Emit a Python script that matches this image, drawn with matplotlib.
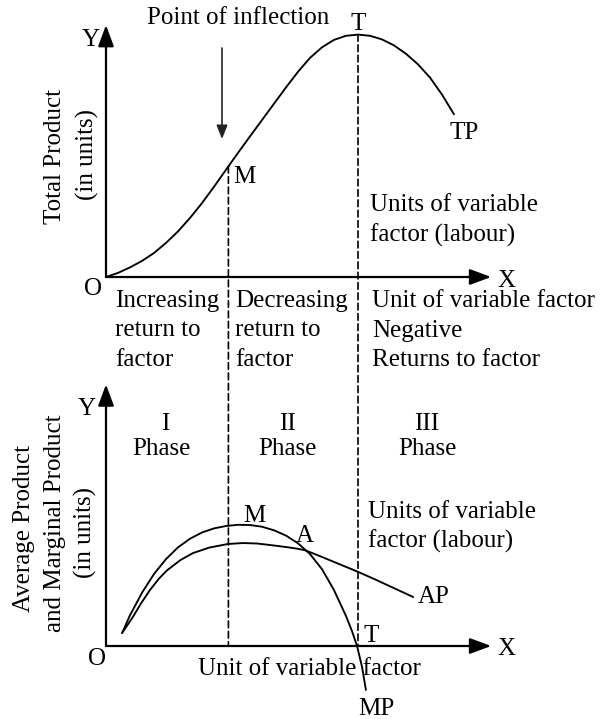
import numpy as np
import matplotlib
matplotlib.use("Agg")
import matplotlib.pyplot as plt
from matplotlib.patches import ConnectionPatch, FancyArrowPatch

# ---------------- data (labour units, product units) ----------------
tp_labour = [0.0, 0.5, 1.0, 1.5, 2.0, 2.5, 3.0, 3.5, 4.0, 4.5, 5.0, 5.5, 6.0,
             6.5, 7.0, 7.5, 8.0, 8.5, 9.0, 9.5, 10.0, 10.5, 11.0, 11.5, 12.0,
             12.5, 13.0, 13.5, 14.0, 14.5]
tp_values = [0.0, 0.17, 0.4, 0.67, 1.0, 1.42, 1.9, 2.46, 3.08, 3.76, 4.47, 5.17,
             5.86, 6.54, 7.22, 7.9, 8.55, 9.13, 9.57, 9.88, 10.05, 10.1, 10.05,
             9.9, 9.65, 9.3, 8.86, 8.31, 7.6, 6.78]

mp_labour = [0.67, 1.0, 1.5, 2.0, 2.5, 3.0, 3.5, 4.0, 4.5, 5.0, 5.5, 6.0, 6.5,
             7.0, 7.5, 8.0, 8.5, 9.0, 9.5, 10.0, 10.25, 10.46, 10.67, 10.83]
mp_values = [0.54, 1.28, 2.22, 3.0, 3.62, 4.11, 4.47, 4.73, 4.9, 5.0, 5.05, 5.04,
             4.97, 4.82, 4.6, 4.28, 3.83, 3.2, 2.33, 1.25, 0.62, 0.0, -0.88, -1.83]

ap_labour = [0.67, 0.9, 1.12, 1.45, 1.83, 2.2, 2.54, 3.1, 3.62, 4.3, 5.08, 5.7,
             6.3, 6.9, 7.6, 8.0, 8.29, 8.6, 9.0, 9.7, 10.5, 11.2, 12.0, 12.8]
ap_values = [0.54, 0.88, 1.21, 1.76, 2.33, 2.8, 3.15, 3.58, 3.87, 4.1, 4.25, 4.29,
             4.27, 4.2, 4.11, 4.05, 3.99, 3.87, 3.71, 3.42, 3.09, 2.78, 2.41, 2.04]

m_labour = 5.1    # point of inflection / end of phase I
t_labour = 10.5   # maximum TP / MP = 0

W, H = 613, 719
fig = plt.figure(figsize=(W / 100, H / 100), dpi=100)
fig.patch.set_facecolor("white")

FONT = "Liberation Serif"
FS = 18
PX = 24.0  # pixels per unit

def px_to_fig(x, y):
    return x / W, 1 - y / H

def label(x, y, s, ha="left", **kw):
    fx, fy = px_to_fig(x, y)
    fig.text(fx, fy, s, ha=ha, va="baseline", fontsize=kw.pop("fontsize", FS),
             family=FONT, color="black", **kw)

# top axes: origin at pixel (106, 277)
ax1 = fig.add_axes([106 / W, (H - 277) / H, 16 * PX / W, 10.5 * PX / H])
ax1.set_xlim(0, 16)
ax1.set_ylim(0, 10.5)
ax1.axis("off")

# bottom axes: origin at pixel (106, 646)
ax2 = fig.add_axes([106 / W, (H - 646) / H, 16 * PX / W, 10.9 * PX / H])
ax2.set_xlim(0, 16)
ax2.set_ylim(0, 10.9)
ax2.axis("off")

axis_arrow = dict(arrowstyle="-|>,head_length=0.65,head_width=0.24",
                  lw=1.6, color="black", shrinkA=0, shrinkB=0, mutation_scale=20)
for ax, ytop in ((ax1, 10.5), (ax2, 10.9)):
    ax.annotate("", xy=(0, ytop), xytext=(0, 0), arrowprops=axis_arrow,
                annotation_clip=False)
    ax.annotate("", xy=(16.05, 0), xytext=(0, 0), arrowprops=axis_arrow,
                annotation_clip=False)

curve_kw = dict(color="black", lw=1.35, solid_joinstyle="round",
                solid_capstyle="round", clip_on=False)
ax1.plot(tp_labour, tp_values, **curve_kw)
ax2.plot(mp_labour, mp_values, **curve_kw)
ax2.plot(ap_labour, ap_values, **curve_kw)

# dashed verticals from top curve down to the lower x axis
m_tp = float(np.interp(m_labour, tp_labour, tp_values))
t_tp = float(np.interp(t_labour, tp_labour, tp_values))
for xv, yv in ((m_labour, m_tp), (t_labour, t_tp)):
    cp = ConnectionPatch(xyA=(xv, yv), coordsA=ax1.transData,
                         xyB=(xv, 0), coordsB=ax2.transData,
                         color="black", lw=1.2, linestyle=(0, (4, 2.2)))
    fig.add_artist(cp)

# point of inflection arrow
fig.add_artist(FancyArrowPatch(
    px_to_fig(222, 48), px_to_fig(222, 139), transform=fig.transFigure,
    arrowstyle="-|>,head_length=0.55,head_width=0.22", mutation_scale=15,
    lw=1.2, color="#222222", shrinkA=0, shrinkB=0))

# ---------------- text ----------------
label(147, 24, "Point of inflection")
label(91, 46, "Y", ha="center")
label(358, 30, "T", ha="center")
label(233, 183, "M")
label(450, 139, "TP")
label(370, 211, "Units of variable")
label(370, 242, "factor (labour)")
label(497, 287, "X")
label(93, 295, "O", ha="center")

for i, s in enumerate(["Increasing", "return to", "factor"]):
    label(115, 307 + 29.5 * i, s)
for i, s in enumerate(["Decreasing", "return to", "factor"]):
    label(235, 307 + 29.5 * i, s)
for i, s in enumerate(["Unit of variable factor", "Negative", "Returns to factor"]):
    label(372, 307 + 29.5 * i, s)

label(165, 430, "I", ha="center")
label(161, 455, "Phase", ha="center")
label(287, 430, "II", ha="center")
label(287, 455, "Phase", ha="center")
label(427, 430, "III", ha="center")
label(427, 455, "Phase", ha="center")

label(87, 415, "Y", ha="center")
label(243, 522, "M")
label(305, 542, "A", ha="center")
label(368, 518, "Units of variable")
label(368, 548, "factor (labour)")
label(418, 603, "AP")
label(371, 642, "T", ha="center")
label(497, 655, "X")
label(97, 665, "O", ha="center")
label(198, 675, "Unit of variable factor")
label(358, 715, "MP")

def vlabel(x, y, s):
    fx, fy = px_to_fig(x, y)
    fig.text(fx, fy, s, rotation=90, ha="center", va="center", fontsize=FS,
             family=FONT, color="black")

vlabel(55, 157, "Total Product")
vlabel(87, 155, "(in units)")
vlabel(24, 528, "Average Product")
vlabel(55, 523, "and Marginal Product")
vlabel(85, 532, "(in units)")

fig.savefig("out.png", dpi=100, facecolor="white")
